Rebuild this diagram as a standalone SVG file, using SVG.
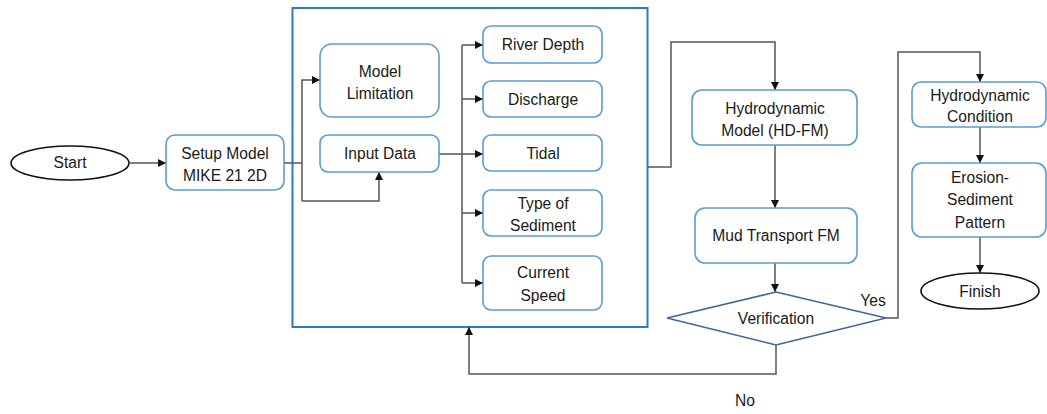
<svg xmlns="http://www.w3.org/2000/svg" width="1047" height="414" viewBox="0 0 1047 414">
<style>
text{font-family:"Liberation Sans",Arial,sans-serif;font-size:15.6px;fill:#1a1a1a;text-anchor:middle}
.box{fill:#fff;stroke:#5b9bd5;stroke-width:1.6}
.ell{fill:#fff;stroke:#111;stroke-width:1.6}
.con{fill:none;stroke:#555;stroke-width:1.5}
</style>
<defs>
<marker id="ah" viewBox="0 0 10 10" refX="10" refY="5" markerWidth="8" markerHeight="8" markerUnits="userSpaceOnUse" orient="auto">
<path d="M0,0 L10,5 L0,10 z" fill="#111"/>
</marker>
</defs>
<rect width="1047" height="414" fill="#fff"/>
<g id="container"><rect x="292.5" y="8" width="355" height="319" fill="none" stroke="#2a7bc4" stroke-width="2"/></g>
<g id="connectors">
<path class="con" d="M130,163 H166" marker-end="url(#ah)"/>
<path class="con" d="M284,163 H302"/>
<path class="con" d="M302,201 V80 H320" marker-end="url(#ah)"/>
<path class="con" d="M302,201 H379 V172" marker-end="url(#ah)"/>
<path class="con" d="M439,154 H462" stroke="#222"/>
<path class="con" d="M462,45 V283"/>
<path class="con" d="M462,45 H483" marker-end="url(#ah)"/>
<path class="con" d="M462,99 H483" marker-end="url(#ah)"/>
<path class="con" d="M462,154 H483" marker-end="url(#ah)"/>
<path class="con" d="M462,213 H483" marker-end="url(#ah)"/>
<path class="con" d="M462,283 H483" marker-end="url(#ah)"/>
<path class="con" d="M648,167 H671 V42 H775 V90" marker-end="url(#ah)"/>
<path class="con" d="M775,145 V208" marker-end="url(#ah)"/>
<path class="con" d="M775,263 V292" marker-end="url(#ah)"/>
<path class="con" d="M776,345 V374 H469 V327" marker-end="url(#ah)"/>
<path class="con" d="M886,318 H898 V52 H980 V82" marker-end="url(#ah)"/>
<path class="con" d="M980,127 V163" marker-end="url(#ah)"/>
<path class="con" d="M980,237 V273" marker-end="url(#ah)"/>
</g>
<g id="start"><ellipse class="ell" cx="70" cy="163" rx="59" ry="17"/><text x="70" y="168">Start</text></g>
<g id="setup"><rect class="box" x="166" y="135" width="118" height="55" rx="9"/><text x="225" y="159">Setup Model</text><text x="225" y="181">MIKE 21 2D</text></g>
<g id="limitation"><rect class="box" x="320" y="44" width="119" height="73" rx="12"/><text x="380" y="77">Model</text><text x="380" y="99">Limitation</text></g>
<g id="input"><rect class="box" x="320" y="135" width="119" height="37" rx="8"/><text x="380" y="159">Input Data</text></g>
<g id="depth"><rect class="box" x="483" y="26" width="119" height="37" rx="8"/><text x="543" y="50">River Depth</text></g>
<g id="discharge"><rect class="box" x="483" y="81" width="119" height="36" rx="8"/><text x="543" y="105">Discharge</text></g>
<g id="tidal"><rect class="box" x="483" y="135" width="119" height="36" rx="8"/><text x="543" y="159">Tidal</text></g>
<g id="sediment"><rect class="box" x="483" y="190" width="119" height="46" rx="8"/><text x="543" y="209">Type of</text><text x="543" y="231">Sediment</text></g>
<g id="speed"><rect class="box" x="483" y="256" width="119" height="54" rx="8"/><text x="543" y="278">Current</text><text x="543" y="301">Speed</text></g>
<g id="hd"><rect class="box" x="692" y="90" width="165" height="55" rx="10"/><text x="775" y="114">Hydrodynamic</text><text x="775" y="136">Model (HD-FM)</text></g>
<g id="mud"><rect class="box" x="695" y="208" width="162" height="55" rx="10"/><text x="776" y="241">Mud Transport FM</text></g>
<g id="verification"><polygon points="776,292 886,318 776,345 667,318" fill="#fff" stroke="#41679a" stroke-width="1.6"/><text x="776" y="324">Verification</text></g>
<text x="873" y="306">Yes</text>
<text x="745" y="406">No</text>
<g id="condition"><rect class="box" x="912" y="82" width="134" height="45" rx="9"/><text x="980" y="101">Hydrodynamic</text><text x="980" y="122">Condition</text></g>
<g id="erosion"><rect class="box" x="912" y="163" width="134" height="74" rx="10"/><text x="980" y="183">Erosion-</text><text x="980" y="205">Sediment</text><text x="980" y="228">Pattern</text></g>
<g id="finish"><ellipse class="ell" cx="980" cy="291" rx="59" ry="18"/><text x="980" y="297">Finish</text></g>
</svg>
